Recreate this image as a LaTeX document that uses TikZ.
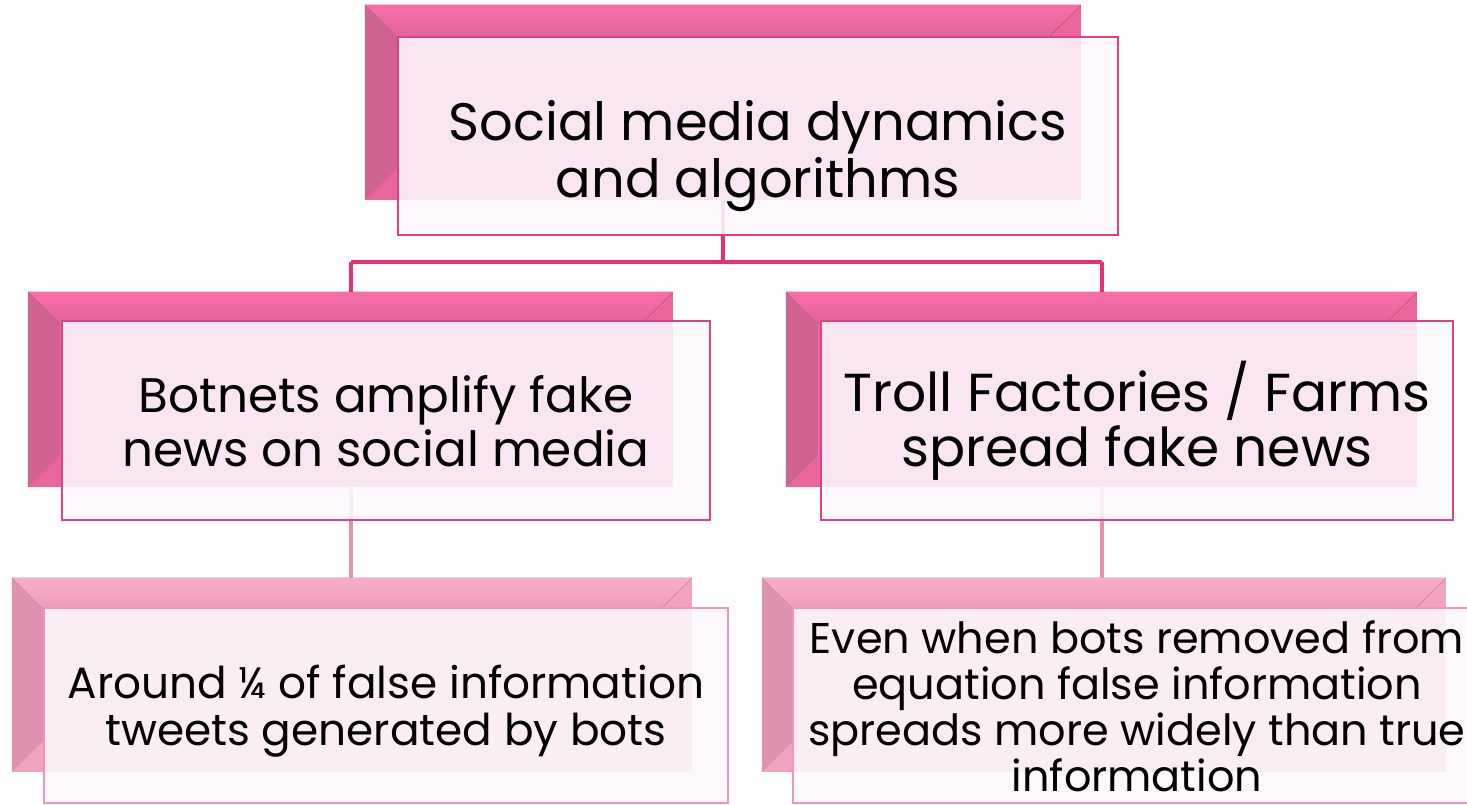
\documentclass[tikz,border=0pt]{standalone}
\usepackage{fontspec}
\setmainfont{Poppins}
\usetikzlibrary{calc}
\definecolor{hotline}{HTML}{E8307A}
\definecolor{softline}{HTML}{E890B0}
\definecolor{bandA}{HTML}{FA6EAA}
\definecolor{bandAlow}{HTML}{DE6499}
\definecolor{sideA}{HTML}{CF6291}
\definecolor{baseA}{HTML}{E8669C}
\definecolor{bandB}{HTML}{F9ADCB}
\definecolor{bandBlow}{HTML}{EE9BBC}
\definecolor{sideB}{HTML}{DE91B0}
\definecolor{baseB}{HTML}{F2A2C2}
\definecolor{edgeA}{HTML}{E0408A}
\definecolor{edgeB}{HTML}{F295BC}
\definecolor{frontfill}{HTML}{FDF8FC}
\tikzset{
  backbox/.style={inner sep=0pt, draw=none},
  frontbox/.style={inner sep=0pt, fill=frontfill, fill opacity=0.88, line width=2pt},
  lbl/.style={align=center, text=black, inner sep=0pt},
}
% #1 name, #2 top band, #3 top band low, #4 side colour
\newcommand\bevelA[4]{%
  \fill[top color=#2, bottom color=#3] (#1.north west) -- (#1.north east)
     -- ($(#1.north east)+(-32,32)$) -- ($(#1.north west)+(32,32)$) -- cycle;
  \fill[#4] (#1.north west) -- ($(#1.north west)+(32,32)$)
     -- ($(#1.south west)+(32,-32)$) -- (#1.south west) -- cycle;
}
\begin{document}
\begin{tikzpicture}[x=1pt,y=-1pt]
\useasboundingbox (0,0) rectangle (1467,804);
\clip (0,0) rectangle (1467,804);
% back boxes
\node[backbox, fill=baseA, minimum width=716pt, minimum height=195pt] (topB) at (723,102.5) {};
\node[backbox, fill=baseA, minimum width=645pt, minimum height=195pt] (leftB) at (350.5,389.5) {};
\node[backbox, fill=baseA, minimum width=631pt, minimum height=195pt] (rightB) at (1101.5,389.5) {};
\node[backbox, fill=baseB, minimum width=680pt, minimum height=194pt] (blB) at (352,675) {};
\node[backbox, fill=baseB, minimum width=684pt, minimum height=194pt] (brB) at (1104,675) {};
\bevelA{topB}{bandA}{bandAlow}{sideA}
\bevelA{leftB}{bandA}{bandAlow}{sideA}
\bevelA{rightB}{bandA}{bandAlow}{sideA}
\bevelA{blB}{bandB}{bandBlow}{sideB}
\bevelA{brB}{bandB}{bandBlow}{sideB}
% connectors
\draw[hotline, line width=4pt] (topB.south) -- ($(topB.south)+(0,62)$) coordinate (hub);
\draw[hotline, line width=4pt, line join=round] (hub -| leftB.north) -- (hub -| rightB.north);
\draw[hotline, line width=4pt] (hub -| leftB.north) -- (leftB.north);
\draw[hotline, line width=4pt] (hub -| rightB.north) -- (rightB.north);
\draw[softline, line width=4pt] (leftB.south) -- (leftB.south |- blB.north);
\draw[softline, line width=4pt] (rightB.south) -- (rightB.south |- brB.north);
% front boxes
\node[frontbox, draw=edgeA, minimum width=720pt, minimum height=198pt] (topF) at (758,136) {};
\node[frontbox, draw=edgeA, minimum width=648pt, minimum height=199pt] (leftF) at (386,420.5) {};
\node[frontbox, draw=edgeA, minimum width=632pt, minimum height=199pt] (rightF) at (1137,420.5) {};
\node[frontbox, draw=edgeB, minimum width=684pt, minimum height=195pt] (blF) at (386,705.5) {};
\node[frontbox, draw=edgeB, minimum width=688pt, minimum height=195pt] (brF) at (1137,705.5) {};
% texts
\node[lbl, font=\fontsize{52.7}{57}\selectfont] (topT) at (758,156) {Social media dynamics\\and algorithms};
\node[lbl, font=\fontsize{48.5}{54}\selectfont] (leftT) at (386,421) {Botnets amplify fake\\news on social media};
\node[lbl, font=\fontsize{53.5}{55}\selectfont] (rightT) at (1137,421) {Troll Factories / Farms\\spread fake news};
\node[lbl, font=\fontsize{43.8}{47}\selectfont] (blT) at (386,711) {Around ¼ of false information\\tweets generated by bots};
\node[lbl, font=\fontsize{43}{46}\selectfont] (brT) at (1137,706) {Even when bots removed from\\equation false information\\spreads more widely than true\\information};
\end{tikzpicture}
\end{document}
